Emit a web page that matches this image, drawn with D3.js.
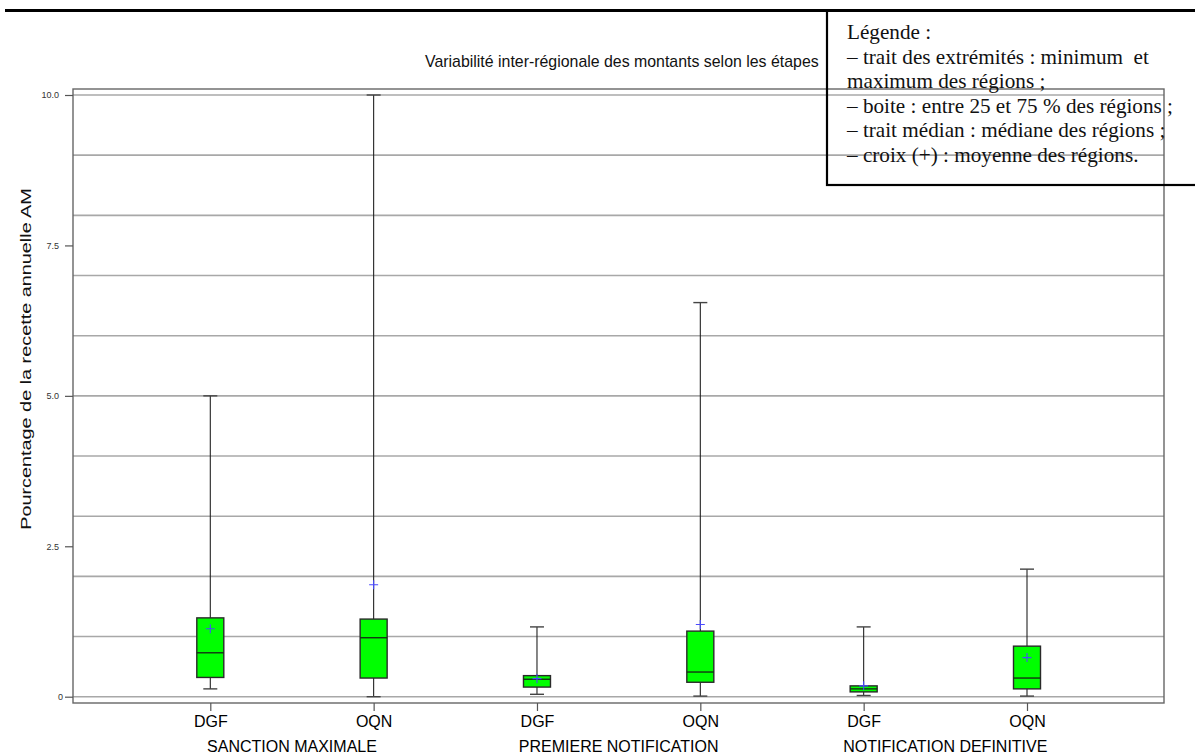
<!DOCTYPE html>
<html>
<head>
<meta charset="utf-8">
<script src="https://cdn.jsdelivr.net/npm/d3@7"></script>
<style>
  html, body { margin: 0; padding: 0; background: #fff; }
  svg { display: block; }
</style>
</head>
<body>
<svg id="chart" width="1195" height="753"></svg>
<script>
// Groups along the x axis: one box per financing type within each stage
const categories = ["DGF", "OQN", "DGF", "OQN", "DGF", "OQN"];
const stages = ["SANCTION MAXIMALE", "PREMIERE NOTIFICATION", "NOTIFICATION DEFINITIVE"];

// Box-plot statistics (% of annual AM revenue) across regions
const minValues    = [0.13, 0.00, 0.04, 0.01, 0.02, 0.01];
const q1Values     = [0.32, 0.31, 0.16, 0.24, 0.08, 0.13];
const medianValues = [0.73, 0.98, 0.29, 0.41, 0.13, 0.31];
const q3Values     = [1.31, 1.29, 0.35, 1.09, 0.18, 0.84];
const maxValues    = [5.00, 10.00, 1.16, 6.55, 1.16, 2.12];
const meanValues   = [1.13, 1.86, 0.30, 1.20, 0.18, 0.65];

const yTickValues = [0, 2.5, 5.0, 7.5, 10.0];
const yTickLabels = ["0", "2.5", "5.0", "7.5", "10.0"];
const gridValues = [0, 1, 2, 3, 4, 5, 6, 7, 8, 9, 10];

const titleText = "Variabilité inter-régionale des montants selon les étapes";
const yTitleText = "Pourcentage de la recette annuelle AM";
const legendLines = [
  "Légende :",
  "– trait des extrémités : minimum  et",
  "maximum des régions ;",
  "– boite : entre 25 et 75 % des régions ;",
  "– trait médian : médiane des régions ;",
  "– croix (+) : moyenne des régions."
];

const svg = d3.select("#chart");
const frame = { left: 73, right: 1164, top: 89, bottom: 703 };
const sans = "Liberation Sans, Arial, sans-serif";

const data = categories.map((c, i) => ({
  key: i, cat: c,
  min: minValues[i], q1: q1Values[i], med: medianValues[i],
  q3: q3Values[i], max: maxValues[i], mean: meanValues[i]
}));

const x = d3.scalePoint().domain(d3.range(categories.length)).range([210.3, 1027]);
const y = d3.scaleLinear().domain([0, 10]).range([696.7, 95]);

// Fit a text element to a target width by scaling its font size
function fitWidth(sel, target) {
  const w = sel.node().getComputedTextLength();
  const fs = parseFloat(sel.attr("font-size"));
  sel.attr("font-size", (fs * target / w).toFixed(2));
}

// Top rule
svg.append("line").attr("x1", 5).attr("x2", 1195).attr("y1", 10.5).attr("y2", 10.5)
  .attr("stroke", "#000").attr("stroke-width", 3);

// Title
const title = svg.append("text")
  .attr("x", 425).attr("y", 67)
  .attr("font-family", sans)
  .attr("font-size", 15).attr("fill", "#111")
  .text(titleText);
fitWidth(title, 394);

// Horizontal gridlines
svg.append("g").selectAll("line").data(gridValues).join("line")
  .attr("x1", frame.left).attr("x2", frame.right)
  .attr("y1", d => y(d)).attr("y2", d => y(d))
  .attr("stroke", "#a8a8a8").attr("stroke-width", 1.6);

// Plot frame
svg.append("rect")
  .attr("x", frame.left).attr("y", frame.top)
  .attr("width", frame.right - frame.left).attr("height", frame.bottom - frame.top)
  .attr("fill", "none").attr("stroke", "#666").attr("stroke-width", 1.4);

// Y axis
const yAxis = d3.axisLeft(y).tickValues(yTickValues)
  .tickFormat((d, i) => yTickLabels[i]).tickSize(8).tickPadding(6);
const gy = svg.append("g").attr("transform", `translate(${frame.left},0)`).call(yAxis);
gy.select(".domain").remove();
gy.selectAll(".tick line").attr("stroke", "#555").attr("stroke-width", 1.2);
gy.selectAll(".tick text")
  .attr("font-family", sans)
  .attr("font-size", 9).attr("fill", "#333");
gy.selectAll(".tick").filter(d => d === 0).select("text").attr("x", -10);

// Y axis title: narrow glyphs stretched along the baseline
const yTitle = svg.append("text")
  .attr("text-anchor", "middle")
  .attr("font-family", sans)
  .attr("font-size", 14).attr("fill", "#111")
  .text(yTitleText);
const yTitleW = yTitle.node().getComputedTextLength();
yTitle.attr("transform", `translate(31,359) rotate(-90) scale(${(342 / yTitleW).toFixed(3)},1)`);

// X axis
const xAxis = d3.axisBottom(x).tickFormat(i => categories[i]).tickSize(8).tickPadding(6);
const gx = svg.append("g").attr("transform", `translate(0,${frame.bottom})`).call(xAxis);
gx.select(".domain").remove();
gx.selectAll(".tick line").attr("stroke", "#555").attr("stroke-width", 1.2);
gx.selectAll(".tick text")
  .attr("font-family", sans)
  .attr("font-size", 16).attr("fill", "#000")
  .attr("dy", null).attr("y", 24);

// Stage labels centered under each pair
svg.append("g").selectAll("text").data(stages).join("text")
  .attr("x", (d, i) => (x(2 * i) + x(2 * i + 1)) / 2)
  .attr("y", 751.5)
  .attr("text-anchor", "middle")
  .attr("font-family", sans)
  .attr("font-size", 16).attr("fill", "#000")
  .text(d => d);

// Box plots
const boxW = 27, capW = 14, crossArm = 4.5;
const boxes = svg.append("g").selectAll("g").data(data).join("g")
  .attr("transform", d => `translate(${x(d.key)},0)`);

// whiskers
boxes.append("line")
  .attr("x1", 0).attr("x2", 0)
  .attr("y1", d => y(d.q3)).attr("y2", d => y(d.max))
  .attr("stroke", "#222").attr("stroke-width", 1.1);
boxes.append("line")
  .attr("x1", 0).attr("x2", 0)
  .attr("y1", d => y(d.q1)).attr("y2", d => y(d.min))
  .attr("stroke", "#222").attr("stroke-width", 1.1);
// caps
boxes.append("line")
  .attr("x1", -capW / 2).attr("x2", capW / 2)
  .attr("y1", d => y(d.max)).attr("y2", d => y(d.max))
  .attr("stroke", "#444").attr("stroke-width", 1.4);
boxes.append("line")
  .attr("x1", -capW / 2).attr("x2", capW / 2)
  .attr("y1", d => y(d.min)).attr("y2", d => y(d.min))
  .attr("stroke", "#444").attr("stroke-width", 1.4);
// box
boxes.append("rect")
  .attr("x", -boxW / 2).attr("width", boxW)
  .attr("y", d => y(d.q3)).attr("height", d => y(d.q1) - y(d.q3))
  .attr("fill", "#00ff00").attr("stroke", "#2a2a2a").attr("stroke-width", 1.4);
// median
boxes.append("line")
  .attr("x1", -boxW / 2).attr("x2", boxW / 2)
  .attr("y1", d => y(d.med)).attr("y2", d => y(d.med))
  .attr("stroke", "#143214").attr("stroke-width", 1.4);
// mean cross
boxes.append("path")
  .attr("d", d => {
    const cy = y(d.mean);
    return `M${-crossArm},${cy}H${crossArm}M0,${cy - crossArm}V${cy + crossArm}`;
  })
  .attr("stroke", "#4a4aff").attr("stroke-width", 1.1).attr("fill", "none");

// Legend box (transparent, frame lines show through)
svg.append("rect")
  .attr("x", 827).attr("y", 10.5).attr("width", 380).attr("height", 174.5)
  .attr("fill", "none").attr("stroke", "#000").attr("stroke-width", 2.2);

const legendTop = 39, legendStep = 24.5;
const legendText = svg.append("g").selectAll("text").data(legendLines).join("text")
  .attr("x", 847)
  .attr("y", (d, i) => legendTop + i * legendStep)
  .attr("font-family", "Liberation Serif, Times New Roman, serif")
  .attr("font-size", 17.5).attr("fill", "#111")
  .attr("xml:space", "preserve")
  .style("white-space", "pre")
  .text(d => d);
// scale legend font so the widest line spans its measured width
const ref = legendText.filter((d, i) => i === 3);
const w3 = ref.node().getComputedTextLength();
legendText.attr("font-size", (17.5 * 326 / w3).toFixed(2));
</script>
</body>
</html>
